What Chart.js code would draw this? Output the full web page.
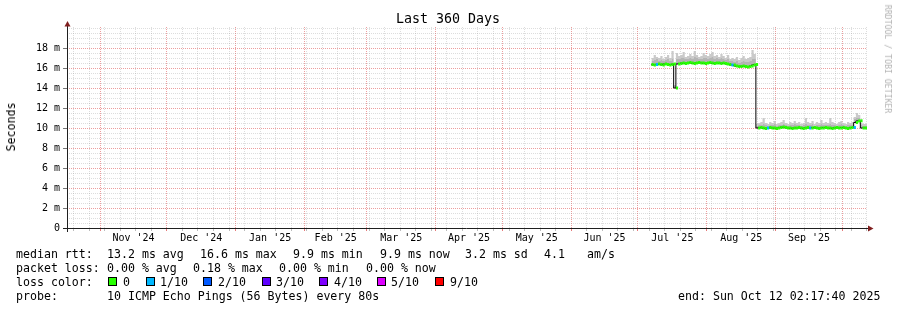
<!DOCTYPE html>
<html><head><meta charset="utf-8">
<script src="https://cdn.jsdelivr.net/npm/chart.js@4.4.1/dist/chart.umd.min.js"></script>
<style>
html,body{margin:0;padding:0;background:#fff;}
#wrap{position:relative;width:897px;height:310px;overflow:hidden;background:#fff;}
#c{position:absolute;left:0;top:0;}
.t{position:absolute;font-family:'DejaVu Sans Mono',monospace;font-size:11.6px;line-height:14px;white-space:pre;color:#000;}
.box{position:absolute;width:9px;height:9px;box-sizing:border-box;border:1px solid #000;}
</style></head><body>
<div id="wrap"><canvas id="c" width="897" height="310"></canvas></div>
<script>
// ---------------- data ----------------
const chartTitle = 'Last 360 Days';
const yAxisTitle = 'Seconds';
const watermark = 'RRDTOOL / TOBI OETIKER';
const endTime = '2025-10-12T02:17:40Z';
const spanDays = 360;
const monthStarts = ['2024-11-01','2024-12-01','2025-01-01','2025-02-01','2025-03-01','2025-04-01','2025-05-01','2025-06-01','2025-07-01','2025-08-01','2025-09-01','2025-10-01'];
const monthLabels = ["Nov '24","Dec '24","Jan '25","Feb '25","Mar '25","Apr '25","May '25","Jun '25","Jul '25","Aug '25","Sep '25"];
const firstWeekLine = '2024-10-20';
const yMajorValues = [0, 2, 4, 6, 8, 10, 12, 14, 16, 18];
const yTickLabels = ['0', '2 m', '4 m', '6 m', '8 m', '10 m', '12 m', '14 m', '16 m', '18 m'];
const yMax = 20.1;

// daily buckets starting at dataStart (values in ms)
const dataStart = '2025-07-07T02:17:40Z';
const medianRtt = [
  16.35,16.3,16.35,16.4,16.35,16.3,16.4,16.35,16.3,16.35,16.4,
  14.0,16.4,
  16.45,16.5,16.45,16.5,16.55,16.5,16.45,16.5,16.55,16.5,16.5,16.45,16.5,16.55,16.5,16.45,16.5,16.5,16.45,16.5,16.45,16.4,16.35,16.3,16.3,
  16.2,16.15,16.15,16.2,16.15,16.1,16.15,16.2,16.3,16.35,
  10.0,
  10.05,10.0,9.95,10.0,10.05,10.0,10.0,9.95,10.0,10.05,10.1,10.05,10.0,10.0,9.95,10.0,10.0,10.05,10.0,9.95,
  10.0,10.05,10.0,10.0,10.05,10.0,9.95,10.0,10.0,10.05,10.0,10.0,9.95,10.0,10.05,10.0,10.0,10.05,10.0,9.95,10.0,10.05,
  10.05,10.55,10.7,10.72,10.0,10.0
];
const smokeInner = [
  16.8,16.7,16.8,16.9,16.7,16.8,16.7,16.8,16.9,16.7,16.9,
  14.2,16.9,
  16.9,17.0,17.0,16.9,16.9,17.0,16.9,17.1,17.0,16.9,16.9,17.0,17.0,16.9,17.0,17.1,16.9,17.0,16.9,17.0,16.9,16.8,16.9,16.7,16.7,
  16.6,16.7,16.5,16.6,16.7,16.6,16.6,16.7,16.9,16.9,
  10.2,
  10.3,10.3,10.4,10.3,10.2,10.3,10.3,10.4,10.2,10.3,10.3,10.4,10.3,10.2,10.3,10.3,10.4,10.3,10.3,10.2,
  10.3,10.4,10.3,10.3,10.4,10.2,10.3,10.3,10.4,10.3,10.3,10.3,10.4,10.3,10.3,10.2,10.3,10.4,10.3,10.2,10.3,10.3,
  10.3,10.9,11.0,11.0,10.3,10.2
];
const smokeOuter = [
  17.2,17.0,17.3,17.1,17.0,17.2,16.9,17.1,17.3,17.0,17.7,
  14.3,17.5,
  17.2,17.3,17.6,17.1,17.2,17.4,17.2,17.7,17.3,17.1,17.2,17.5,17.3,17.2,17.4,17.6,17.2,17.3,17.1,17.4,17.2,17.0,17.3,16.9,17.0,
  16.9,17.1,16.8,17.0,17.2,16.9,17.0,17.1,17.8,17.4,
  10.4,
  10.5,10.6,11.0,10.5,10.4,10.6,10.5,10.7,10.4,10.5,10.6,10.8,10.5,10.4,10.6,10.5,10.7,10.5,10.6,10.4,
  10.5,11.0,10.6,10.5,10.7,10.4,10.6,10.5,10.8,10.5,10.6,10.5,11.0,10.6,10.5,10.4,10.6,10.7,10.5,10.4,10.6,10.5,
  10.6,11.1,11.5,11.3,10.5,10.4
];
// packet loss per bucket, in tenths
const lossTenths = [
  0,0,1,0,0,0,0,0,0,0,0, 0,0,
  0,0,0,0,0,0,0,0,0,0,0,0,0,0,0,0,0,0,0,0,0,0,0,1,0,
  0,0,0,0,0,0,0,0,0,0,
  0,
  0,0,0,1,0,0,0,0,0,0,0,0,0,0,0,0,0,0,0,0,
  0,0,1,0,0,0,0,0,0,0,0,0,0,0,0,0,0,0,0,0,0,0,
  1,0,0,0,0,0
];

const legendRtt = ['median rtt:', '13.2 ms avg', '16.6 ms max', '9.9 ms min', '9.9 ms now', '3.2 ms sd', '4.1', 'am/s'];
const legendLoss = ['packet loss:', '0.00 % avg', '0.18 % max', '0.00 % min', '0.00 % now'];
const lossColorTitle = 'loss color:';
const lossColorLabels = ['0', '1/10', '2/10', '3/10', '4/10', '5/10', '9/10'];
const lossColors = ['#26ff00', '#00b8ff', '#0059ff', '#5e00ff', '#7e00ff', '#dd00ff', '#ff0000'];
const probeLabel = 'probe:';
const probeText = '10 ICMP Echo Pings (56 Bytes) every 80s';
const endText = 'end: Sun Oct 12 02:17:40 2025';

// ---------------- layout ----------------
const rttX = [16, 107, 200, 293, 380, 465, 544, 587];
const lossX = [16, 107, 193, 279, 366];
const boxX = [108, 146, 203, 262, 319, 377, 435];
const boxLabelX = [123, 160, 218, 276, 334, 391, 450];
const rowTop = [247, 261, 275, 289];
const MINOR = 'rgba(143,143,143,0.3)';
const MAJOR = 'rgba(222,79,79,0.55)';
const MINOR_TICK = 'rgba(143,143,143,0.6)';
const MAJOR_TICK = 'rgba(222,79,79,0.75)';

const DAY = 86400000;
const startMs = Date.parse(endTime) - spanDays * DAY;
const dayOf = s => (Date.parse(s.length === 10 ? s + 'T00:00:00Z' : s) - startMs) / DAY;
const d0 = dayOf(dataStart);

function lossColor(n) { return n <= 5 ? lossColors[n] : lossColors[6]; }

const stepPts = arr => arr.map((v, i) => ({x: d0 + i, y: v})).concat([{x: d0 + arr.length, y: arr[arr.length - 1]}]);
const greenPts = [];
medianRtt.forEach((v, i) => { greenPts.push({x: d0 + i, y: v}, {x: d0 + i + 1, y: v}, {x: d0 + i + 1, y: null}); });

function xTicks() {
  const t = [];
  const majors = monthStarts.map(dayOf);
  for (let d = dayOf(firstWeekLine); d <= spanDays + 1e-6; d += 7) {
    if (!majors.some(m => Math.abs(m - d) < 0.01)) t.push({value: d, kind: 'minor'});
  }
  majors.forEach(m => { if (m <= spanDays) t.push({value: m, kind: 'major'}); });
  monthLabels.forEach((l, i) => t.push({value: (majors[i] + majors[i + 1]) / 2, kind: 'label', lab: l}));
  t.sort((a, b) => a.value - b.value);
  return t;
}
function yTicks() {
  const t = [];
  for (let k = 0; k <= 40; k++) {
    const v = k / 2;
    const mi = yMajorValues.indexOf(v);
    t.push({value: v, kind: v === 0 ? 'zero' : (mi >= 0 ? 'major' : 'minor'), lab: mi >= 0 ? yTickLabels[mi] : ''});
  }
  return t;
}
const kindOf = c => (c.tick && c.tick.kind) || (c.scale && c.scale.ticks && c.scale.ticks[c.index] && c.scale.ticks[c.index].kind) || '';

const axisPlugin = {
  id: 'rrdAxes',
  afterDatasetsDraw(chart) {
    const {ctx, chartArea: a} = chart;
    ctx.save();
    ctx.lineWidth = 1;
    ctx.strokeStyle = '#1f1f1f';
    ctx.beginPath(); ctx.moveTo(a.left - 4, a.bottom + 0.5); ctx.lineTo(a.right + 3, a.bottom + 0.5); ctx.stroke();
    ctx.beginPath(); ctx.moveTo(a.left + 0.5, a.bottom + 4); ctx.lineTo(a.left + 0.5, a.top - 2); ctx.stroke();
    ctx.fillStyle = '#801f1f';
    ctx.beginPath(); ctx.moveTo(a.right + 1, a.bottom - 2.5); ctx.lineTo(a.right + 6.5, a.bottom + 0.5); ctx.lineTo(a.right + 1, a.bottom + 3.5); ctx.closePath(); ctx.fill();
    ctx.beginPath(); ctx.moveTo(a.left - 2.5, a.top - 0.5); ctx.lineTo(a.left + 0.5, a.top - 6); ctx.lineTo(a.left + 3.5, a.top - 0.5); ctx.closePath(); ctx.fill();
    ctx.restore();
  }
};

const tickFont = {family: "'DejaVu Sans Mono', monospace", size: 10};
const gridColor = c => { const k = kindOf(c); return k === 'major' ? MAJOR : (k === 'minor' ? MINOR : 'rgba(0,0,0,0)'); };

new Chart(document.getElementById('c'), {
  type: 'line',
  data: {
    datasets: [
      {data: greenPts, borderColor: lossColors[0], borderWidth: 3, pointRadius: 0, spanGaps: false, order: 0,
        segment: {borderColor: c => lossColor(lossTenths[Math.floor(c.p0DataIndex / 3)])}},
      {data: stepPts(medianRtt), borderColor: '#000', borderWidth: 1, pointRadius: 0, stepped: 'after', order: 1},
      {data: stepPts(smokeInner), borderWidth: 0, borderColor: 'rgba(0,0,0,0)', backgroundColor: '#b4b4b4', pointRadius: 0, stepped: 'after', fill: 1, order: 2},
      {data: stepPts(smokeOuter), borderWidth: 0, borderColor: 'rgba(0,0,0,0)', backgroundColor: '#cacaca', pointRadius: 0, stepped: 'after', fill: 2, order: 3}
    ]
  },
  options: {
    responsive: false, animation: false, devicePixelRatio: 1,
    layout: {padding: {left: 0, right: 30, top: 27, bottom: 0}},
    plugins: {legend: {display: false}, tooltip: {enabled: false}, title: {display: false}},
    elements: {point: {radius: 0}, line: {tension: 0}},
    scales: {
      x: {
        type: 'linear', min: 0, max: spanDays,
        afterBuildTicks: s => { s.ticks = xTicks(); },
        afterFit: s => { s.height = 82; },
        border: {display: false, dash: [1, 1]},
        grid: {
          lineWidth: 1, tickLength: 3, tickWidth: 1, color: gridColor,
          tickColor: c => { const k = kindOf(c); return k === 'major' ? MAJOR_TICK : (k === 'minor' ? MINOR_TICK : 'rgba(0,0,0,0)'); }
        },
        ticks: {autoSkip: false, maxRotation: 0, minRotation: 0, padding: 1, color: '#000', font: tickFont,
          callback: (v, i, t) => t[i].lab || ''}
      },
      y: {
        type: 'linear', min: 0, max: yMax,
        afterBuildTicks: s => { s.ticks = yTicks(); },
        afterFit: s => { s.width = 67; },
        border: {display: false, dash: [1, 1]},
        grid: {
          lineWidth: 1, tickLength: 4, tickWidth: 1, color: gridColor,
          tickColor: c => kindOf(c) === 'minor' ? 'rgba(0,0,0,0)' : '#777'
        },
        ticks: {autoSkip: false, padding: 3, color: '#000', font: tickFont,
          callback: (v, i, t) => t[i].lab || ''}
      }
    }
  },
  plugins: [axisPlugin]
});

// ---------------- text layer ----------------
const wrap = document.getElementById('wrap');
function addText(txt, x, y, extra) {
  const d = document.createElement('div');
  d.className = 't';
  d.textContent = txt;
  d.style.left = x + 'px';
  d.style.top = y + 'px';
  if (extra) Object.assign(d.style, extra);
  wrap.appendChild(d);
  return d;
}
addText(chartTitle, 448, 11, {fontSize: '13.3px', lineHeight: '16px', transform: 'translateX(-50%)'});
addText(yAxisTitle, 11, 127, {transform: 'translate(-50%,-50%) rotate(-90deg)'});
addText(watermark, 888, 59, {fontSize: '8.2px', lineHeight: '10px', color: '#b3b3b3', transform: 'translate(-50%,-50%) rotate(90deg)'});
legendRtt.forEach((s, i) => addText(s, rttX[i], rowTop[0]));
legendLoss.forEach((s, i) => addText(s, lossX[i], rowTop[1]));
addText(lossColorTitle, 16, rowTop[2]);
lossColorLabels.forEach((s, i) => {
  const b = document.createElement('div');
  b.className = 'box';
  b.style.left = boxX[i] + 'px';
  b.style.top = '277px';
  b.style.background = lossColors[i];
  wrap.appendChild(b);
  addText(s, boxLabelX[i], rowTop[2]);
});
addText(probeLabel, 16, rowTop[3]);
addText(probeText, 107, rowTop[3]);
addText(endText, 678, rowTop[3]);
</script></body></html>
